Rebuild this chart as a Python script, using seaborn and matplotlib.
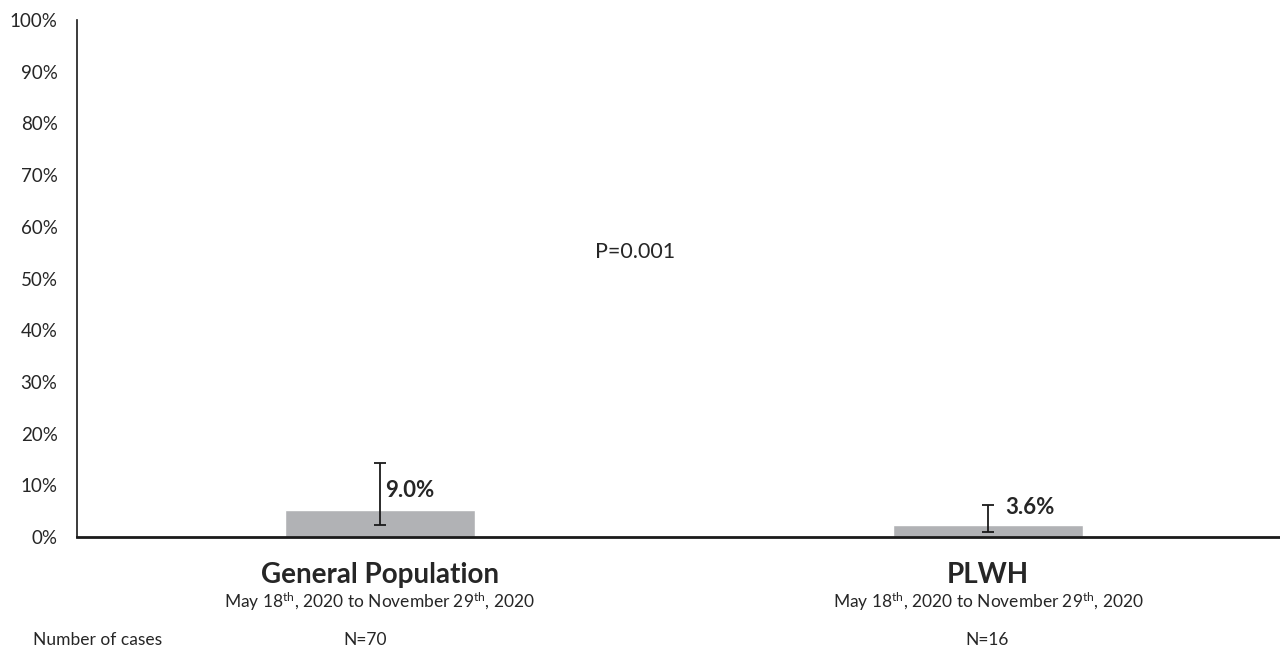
import matplotlib
matplotlib.use("Agg")
import matplotlib.pyplot as plt
import seaborn as sns
import pandas as pd

# ---- data ----
categories = ["General Population", "PLWH"]
bar_values = [5.2, 2.3]          # bar heights (%)
err_low = [2.3, 1.0]             # lower end of error bar (%)
err_high = [14.3, 6.1]           # upper end of error bar (%)
value_labels = ["9.0%", "3.6%"]
subtitles = ["May 18$^{\\mathrm{th}}$, 2020 to November 29$^{\\mathrm{th}}$, 2020"] * 2
n_labels = ["N=70", "N=16"]
y_ticks = list(range(0, 101, 10))
y_tick_labels = [f"{t}%" for t in y_ticks]
p_text = "P=0.001"

sns.set_theme(style="white")
FONT = "Lato"
plt.rcParams["font.family"] = [FONT, "DejaVu Sans"]
plt.rcParams["mathtext.fontset"] = "custom"
plt.rcParams["mathtext.rm"] = FONT
plt.rcParams["mathtext.it"] = FONT + ":italic"
plt.rcParams["mathtext.bf"] = FONT + ":bold"

TXT = "#262626"
fig = plt.figure(figsize=(12.8, 6.48), dpi=100)
ax = fig.add_axes([77 / 1280, 1 - 537 / 648, 1 - 77 / 1280, 517 / 648])

df = pd.DataFrame({"cat": categories, "val": bar_values})
sns.barplot(data=df, x="cat", y="val", color="#b1b2b5", saturation=1,
            width=0.3125, errorbar=None, ax=ax)

xs = list(range(len(categories)))
yerr = [[v - lo for v, lo in zip(bar_values, err_low)],
        [hi - v for v, hi in zip(bar_values, err_high)]]
ax.errorbar(xs, bar_values, yerr=yerr, fmt="none", ecolor="#1a1a1a",
            elinewidth=1.3, capsize=4, capthick=1.3)

# value labels
ax.text(0.008, 9.0, value_labels[0], ha="left", va="center",
        fontsize=16, fontweight="bold", color=TXT)
ax.text(1.028, 5.8, value_labels[1], ha="left", va="center",
        fontsize=16, fontweight="bold", color=TXT)

ax.text(0.42, 55.2, p_text, ha="center", va="center", fontsize=15.5, color=TXT,
        transform=ax.transData)

ax.set_xlim(-0.498, 1.48)
ax.set_ylim(0, 100)
ax.set_yticks(y_ticks)
ax.set_yticklabels(y_tick_labels, fontsize=13.5, color=TXT)
ax.tick_params(axis="y", length=0, pad=14)
ax.tick_params(axis="x", length=0, pad=18)
ax.set_xticks(xs)
ax.set_xticklabels(categories, fontsize=20, fontweight="bold", color=TXT)
ax.set_xlabel("")
ax.set_ylabel("")

for s in ["top", "right"]:
    ax.spines[s].set_visible(False)
ax.spines["left"].set_color("#1a1a1a")
ax.spines["left"].set_linewidth(1.2)
ax.spines["bottom"].set_color("#1a1a1a")
ax.spines["bottom"].set_linewidth(2.0)

tr = ax.get_xaxis_transform()
for x, sub, n in zip(xs, subtitles, n_labels):
    ax.text(x, (537 - 602) / 517, sub, transform=tr, ha="center", va="center",
            fontsize=12.5, color=TXT)
    ax.text(x - 0.025 if x == 0 else x - 0.002, (537 - 640) / 517, n, transform=tr,
            ha="center", va="center", fontsize=12.5, color=TXT)

fig.text(33 / 1280, 1 - 640 / 648, "Number of cases", ha="left", va="center",
         fontsize=12.5, color=TXT)

fig.savefig("out.png", dpi=100)
